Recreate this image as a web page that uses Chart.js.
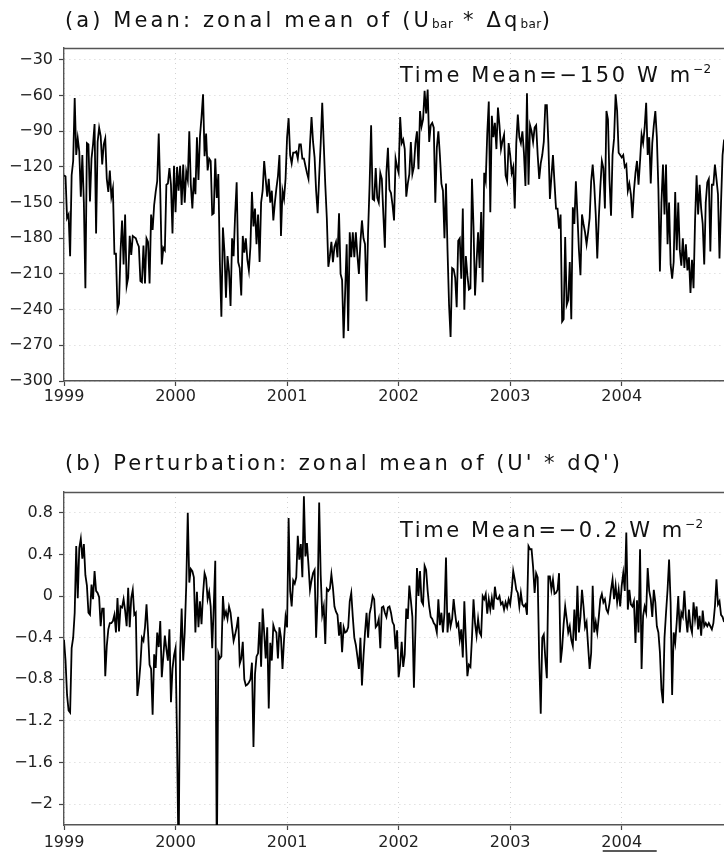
<!DOCTYPE html>
<html><head><meta charset="utf-8">
<script src="https://cdn.jsdelivr.net/npm/chart.js@4.4.1/dist/chart.umd.min.js"></script>
<style>
html,body{margin:0;padding:0;background:#fff;}
#wrap{position:relative;width:724px;height:854px;overflow:hidden;background:#fff;}
#wa{position:absolute;left:0;top:0;width:724px;height:420px;}
#wb{position:absolute;left:0;top:420px;width:724px;height:434px;}
</style></head><body>
<div id="wrap"><div id="wa"><canvas id="ca"></canvas></div><div id="wb"><canvas id="cb"></canvas></div></div>
<script>
// ---------- DATA (pentad values, 73 per year) ----------
const years = [1999, 2000, 2001, 2002, 2003, 2004];
const xTickValues = [1999, 2000, 2001, 2002, 2003, 2004];
const xTickLabels = ['1999', '2000', '2001', '2002', '2003', '2004'];
const xEnd = 2004.917;
const pentadsPerYear = 73;

const yTicksA = [-300, -270, -240, -210, -180, -150, -120, -90, -60, -30];
const yLabelsA = ['\u2212300', '\u2212270', '\u2212240', '\u2212210', '\u2212180', '\u2212150', '\u2212120', '\u221290', '\u221260', '\u221230'];
const yTicksB = [-2, -1.6, -1.2, -0.8, -0.4, 0, 0.4, 0.8];
const yLabelsB = ['\u22122', '\u22121.6', '\u22121.2', '\u22120.8', '\u22120.4', '0', '0.4', '0.8'];

// (a) mean term  U_bar * dq_bar   (W m-2)
const meanA1999 = [-127,-128,-163,-160,-195,-127,-115,-62,-110,-96,-107,-145,-110,-150,-222,-100,-101,-149,-113,-101,-84,-176,-99,-87,-94,-118,-101,-96,-130,-141,-123,-145,-138,-193,-193,-240,-235,-191,-165,-202,-160,-220,-213,-178,-194,-178,-179,-180,-184,-187,-216,-217,-186,-218,-180,-183,-218,-160,-173,-152,-141,-132,-92,-141,-202,-188,-190,-135,-134,-121,-135,-176,-119];
const meanA2000 = [-158,-120,-140,-119,-152,-118,-150,-124,-131,-90,-135,-155,-129,-143,-95,-131,-94,-78,-59,-111,-92,-123,-113,-115,-160,-159,-113,-146,-126,-200,-246,-171,-191,-230,-195,-208,-237,-180,-195,-160,-133,-200,-205,-228,-178,-192,-180,-198,-207,-187,-141,-170,-155,-185,-160,-200,-150,-140,-115,-130,-145,-130,-150,-140,-165,-150,-138,-128,-110,-178,-140,-147,-130];
const meanA2001 = [-95,-79,-110,-117,-108,-108,-107,-113,-101,-101,-113,-113,-119,-125,-130,-101,-78,-99,-112,-140,-159,-128,-100,-66,-101,-135,-163,-204,-195,-183,-200,-187,-183,-196,-159,-210,-215,-264,-225,-185,-258,-175,-196,-175,-196,-175,-194,-210,-183,-165,-180,-185,-233,-175,-135,-85,-147,-148,-121,-146,-150,-125,-130,-160,-188,-125,-104,-139,-142,-152,-165,-113,-120];
const meanA2002 = [-125,-78,-100,-97,-105,-145,-134,-126,-99,-126,-120,-100,-90,-122,-73,-86,-80,-56,-75,-55,-99,-85,-83,-87,-150,-104,-90,-110,-134,-140,-180,-134,-190,-236,-263,-205,-206,-213,-238,-182,-180,-214,-155,-240,-195,-211,-223,-222,-130,-170,-228,-200,-175,-205,-158,-217,-125,-132,-92,-65,-158,-77,-95,-83,-105,-70,-85,-105,-98,-93,-127,-132,-100];
const meanA2003 = [-110,-125,-120,-155,-100,-76,-95,-100,-90,-108,-136,-58,-135,-85,-90,-99,-87,-85,-110,-130,-117,-110,-99,-68,-68,-100,-147,-128,-110,-133,-155,-155,-172,-160,-250,-248,-179,-236,-232,-200,-248,-154,-168,-132,-160,-190,-211,-160,-168,-175,-185,-175,-163,-132,-118,-135,-160,-197,-163,-137,-115,-121,-155,-73,-80,-131,-161,-110,-96,-59,-73,-108,-110];
const meanA2004 = [-112,-110,-120,-118,-140,-134,-143,-163,-140,-125,-115,-135,-115,-93,-100,-87,-66,-110,-95,-134,-100,-85,-73,-95,-138,-208,-150,-118,-160,-118,-185,-150,-202,-214,-200,-141,-190,-150,-190,-203,-180,-205,-185,-207,-196,-226,-198,-222,-165,-127,-160,-135,-155,-168,-202,-150,-133,-130,-191,-135,-135,-118,-130,-143,-197,-150,-110,-97];

// (b) perturbation term  U' * dQ'   (W m-2)
const pertB1999 = [-0.42,-0.62,-0.95,-1.10,-1.12,-0.50,-0.40,-0.16,0.48,-0.02,0.46,0.55,0.36,0.50,0.20,0.10,-0.16,-0.18,0.11,-0.03,0.24,0.05,0.03,-0.01,-0.29,-0.12,-0.12,-0.77,-0.48,-0.32,-0.26,-0.26,-0.24,-0.18,-0.35,-0.02,-0.34,-0.10,-0.11,-0.03,-0.14,-0.29,0.08,-0.30,-0.02,0.06,-0.18,-0.16,-0.96,-0.84,-0.66,-0.40,-0.43,-0.30,-0.08,-0.35,-0.66,-0.70,-1.14,-0.56,-0.69,-0.35,-0.49,-0.24,-0.78,-0.58,-0.38,-0.51,-0.62,-0.32,-1.02,-0.70,-0.57];
const pertB2000 = [-0.50,-1.40,-2.60,-0.55,-0.12,-0.62,-0.35,0.10,0.80,0.13,0.26,0.24,0.18,-0.35,0.04,-0.30,-0.05,-0.27,0.02,0.22,0.17,-0.03,0.04,-0.10,-0.50,-0.10,0.34,-2.60,-0.55,-0.60,-0.58,0.00,-0.20,-0.15,-0.22,-0.10,-0.16,-0.30,-0.43,-0.37,-0.30,-0.20,-0.65,-0.60,-0.44,-0.80,-0.86,-0.85,-0.83,-0.80,-0.64,-1.45,-0.75,-0.58,-0.55,-0.25,-0.68,-0.12,-0.35,-0.60,-0.30,-1.08,-0.45,-0.62,-0.28,-0.33,-0.35,-0.60,-0.30,-0.40,-0.70,-0.42,-0.20];
const pertB2001 = [-0.30,0.75,0.05,-0.10,0.15,0.12,0.18,0.58,0.35,0.50,0.18,0.96,0.38,0.51,0.30,0.06,0.15,0.22,0.25,-0.40,0.00,0.90,0.20,-0.18,-0.10,-0.46,0.07,0.05,0.07,0.21,0.08,-0.10,-0.15,-0.18,-0.38,-0.25,-0.54,-0.30,-0.35,-0.34,-0.30,-0.05,0.03,-0.20,-0.40,-0.47,-0.58,-0.70,-0.40,-0.86,-0.58,-0.35,-0.16,-0.40,-0.17,-0.10,0.00,-0.03,-0.30,-0.28,-0.22,-0.50,-0.11,-0.10,-0.16,-0.20,-0.11,-0.10,-0.16,-0.25,-0.28,-0.51,-0.33];
const pertB2002 = [-0.78,-0.66,-0.44,-0.68,-0.56,-0.12,-0.22,0.10,-0.04,-0.20,-0.88,-0.32,0.27,0.00,0.24,-0.05,-0.08,0.29,0.25,0.05,-0.10,-0.20,-0.22,-0.26,-0.28,-0.35,-0.03,-0.28,-0.16,-0.35,-0.16,0.37,-0.35,-0.16,-0.29,-0.22,-0.03,-0.17,-0.29,-0.26,-0.42,-0.32,-0.59,-0.05,-0.42,-0.77,-0.66,-0.68,-0.40,-0.03,-0.26,-0.38,-0.22,-0.35,-0.38,0.00,-0.03,0.02,-0.17,-0.03,-0.13,-0.02,-0.13,0.09,-0.02,-0.03,0.00,-0.08,-0.06,-0.13,-0.06,-0.11,-0.03];
const pertB2003 = [-0.08,0.05,0.24,0.16,0.06,0.03,-0.10,0.03,-0.08,-0.10,-0.08,-0.18,0.48,0.45,0.45,0.28,0.03,0.22,0.18,-0.60,-1.13,-0.40,-0.37,-0.60,-0.79,0.19,0.19,0.06,0.16,0.02,0.03,0.06,0.22,-0.64,-0.50,-0.27,-0.10,-0.22,-0.35,-0.29,-0.42,-0.48,-0.13,-0.43,0.10,-0.35,-0.20,0.06,-0.10,-0.30,-0.25,-0.48,-0.70,-0.55,0.10,-0.35,-0.25,-0.35,-0.20,-0.03,0.02,-0.06,-0.03,-0.13,-0.16,-0.07,0.06,0.16,-0.03,0.10,-0.06,0.06,-0.10];
const pertB2004 = [0.10,0.22,0.05,0.61,-0.13,0.06,-0.08,-0.10,-0.05,-0.45,-0.04,-0.35,0.45,-0.70,-0.19,-0.10,-0.16,0.27,0.05,-0.03,-0.20,0.06,-0.06,-0.29,-0.35,-0.54,-0.90,-1.03,-0.40,-0.16,0.06,0.35,-0.06,-0.95,-0.35,-0.45,-0.25,0.00,-0.35,-0.16,-0.20,0.05,-0.20,-0.35,-0.13,-0.29,-0.35,-0.06,-0.22,-0.10,-0.32,-0.19,-0.38,-0.14,-0.29,-0.26,-0.29,-0.26,-0.29,-0.32,-0.26,-0.10,0.16,-0.08,-0.05,-0.18,-0.20,-0.25];

const meanSeries = [meanA1999, meanA2000, meanA2001, meanA2002, meanA2003, meanA2004];
const pertSeries = [pertB1999, pertB2000, pertB2001, pertB2002, pertB2003, pertB2004];

const titleA = [{t: '(a) Mean: zonal mean of (U'}, {t: 'bar', small: true}, {t: ' * \u0394q'}, {t: 'bar', small: true}, {t: ')'}];
const titleB = [{t: "(b) Perturbation: zonal mean of (U' * dQ')"}];
const noteA = [{t: 'Time Mean=\u2212150 W m'}, {t: '\u22122', sup: true}];
const noteB = [{t: 'Time Mean=\u22120.2 W m'}, {t: '\u22122', sup: true}];

// ---------- helpers ----------
function toPoints(chunks) {
  const pts = [];
  chunks.forEach((arr, k) => arr.forEach((v, i) => pts.push({x: years[k] + i / pentadsPerYear, y: v})));
  return pts;
}
const FAM = '"DejaVu Sans", sans-serif';
function drawSpaced(ctx, segs, x, y, target, size) {
  ctx.save();
  ctx.fillStyle = '#111'; ctx.textAlign = 'left'; ctx.textBaseline = 'alphabetic';
  const isSmall = s => s.small || s.sup;
  const fontOf = s => (s.small ? Math.round(size * 0.55) : s.sup ? Math.round(size * 0.55) : size) + 'px ' + FAM;
  const dyOf = s => s.small ? 1 : s.sup ? -Math.round(size * 0.45) : 0;
  const smallSp = 0.5;
  const hasLS = 'letterSpacing' in ctx;
  if (hasLS) ctx.letterSpacing = '0px';
  let natural = 0, n = 0, nSmall = 0;
  segs.forEach(s => {
    ctx.font = fontOf(s); natural += ctx.measureText(s.t).width;
    const len = Array.from(s.t).length;
    if (isSmall(s)) nSmall += len; else n += len;
  });
  const sp = (target - natural - smallSp * nSmall) / Math.max(1, n - 1);
  let cx = x;
  segs.forEach(s => {
    ctx.font = fontOf(s);
    const len = Array.from(s.t).length;
    const gap = isSmall(s) ? smallSp : sp;
    if (hasLS) {
      ctx.letterSpacing = '0px';
      const w = ctx.measureText(s.t).width;
      ctx.letterSpacing = gap + 'px';
      ctx.fillText(s.t, cx, y + dyOf(s));
      cx += w + gap * len;
    } else {
      for (const ch of s.t) { ctx.fillText(ch, cx, y + dyOf(s)); cx += ctx.measureText(ch).width + gap; }
    }
  });
  ctx.restore();
}

function decoPlugin(cfg) {
  return {
    id: 'deco',
    afterDraw(chart) {
      const ctx = chart.ctx, a = chart.chartArea;
      ctx.save();
      ctx.strokeStyle = '#555'; ctx.lineWidth = 1.4;
      ctx.beginPath(); ctx.moveTo(a.left, a.top + 0.5); ctx.lineTo(a.right, a.top + 0.5); ctx.stroke();
      ctx.restore();
      drawSpaced(ctx, cfg.title, 65, cfg.titleY, cfg.titleW, 21);
      drawSpaced(ctx, cfg.note, 400, cfg.noteY, cfg.noteW, 21);
      if (cfg.underline) {
        const xs = chart.scales.x.getPixelForValue(2004);
        ctx.save(); ctx.strokeStyle = '#222'; ctx.lineWidth = 1.5;
        ctx.beginPath(); ctx.moveTo(xs - 19, cfg.underline); ctx.lineTo(xs + 35, cfg.underline); ctx.stroke();
        ctx.restore();
      }
    }
  };
}

function makeChart(id, pts, yMin, yMax, yTicks, yLabels, topPad, xAxisH, xPad, deco) {
  return new Chart(document.getElementById(id), {
    type: 'line',
    data: {datasets: [{data: pts, borderColor: '#000', borderWidth: 1.8, pointRadius: 0, tension: 0, fill: false, clip: 0}]},
    options: {
      responsive: true, maintainAspectRatio: false, animation: false, devicePixelRatio: 1,
      parsing: false, normalized: true,
      layout: {padding: {top: topPad, left: 0, right: 0, bottom: 0}},
      plugins: {legend: {display: false}, tooltip: {enabled: false}, title: {display: false}},
      events: [],
      scales: {
        x: {
          type: 'linear', min: years[0], max: xEnd,
          afterBuildTicks: ax => { ax.ticks = xTickValues.map(v => ({value: v})); },
          afterFit: s => { s.height = xAxisH; },
          ticks: {autoSkip: false, maxRotation: 0, padding: xPad, color: '#222', font: {family: FAM, size: 16},
                  callback: v => xTickLabels[xTickValues.indexOf(v)]},
          grid: {color: '#d2d2d2', lineWidth: 1, drawTicks: true, tickLength: 5, tickColor: '#444', tickWidth: 1.2, tickBorderDash: []},
          border: {display: true, color: '#555', width: 1.6, dash: [1, 4]}
        },
        y: {
          min: yMin, max: yMax,
          afterBuildTicks: ax => { ax.ticks = yTicks.map(v => ({value: v})); },
          afterFit: s => { s.width = 64; },
          ticks: {padding: 6, color: '#222', font: {family: FAM, size: 16},
                  callback: v => yLabels[yTicks.indexOf(v)]},
          grid: {color: '#d2d2d2', lineWidth: 1, drawTicks: true, tickLength: 5, tickColor: '#444', tickWidth: 1.2, tickBorderDash: []},
          border: {display: true, color: '#555', width: 1.4, dash: [1, 4]}
        }
      }
    },
    plugins: [decoPlugin(deco)]
  });
}

makeChart('ca', toPoints(meanSeries), -300, -20, yTicksA, yLabelsA, 48, 39, 1,
  {title: titleA, titleY: 27, titleW: 485, note: noteA, noteY: 82, noteW: 309});
makeChart('cb', toPoints(pertSeries), -2.2, 1.0, yTicksB, yLabelsB, 72, 29, 3,
  {title: titleB, titleY: 50, titleW: 555, note: noteB, noteY: 117, noteW: 301, underline: 431});
</script></body></html>
